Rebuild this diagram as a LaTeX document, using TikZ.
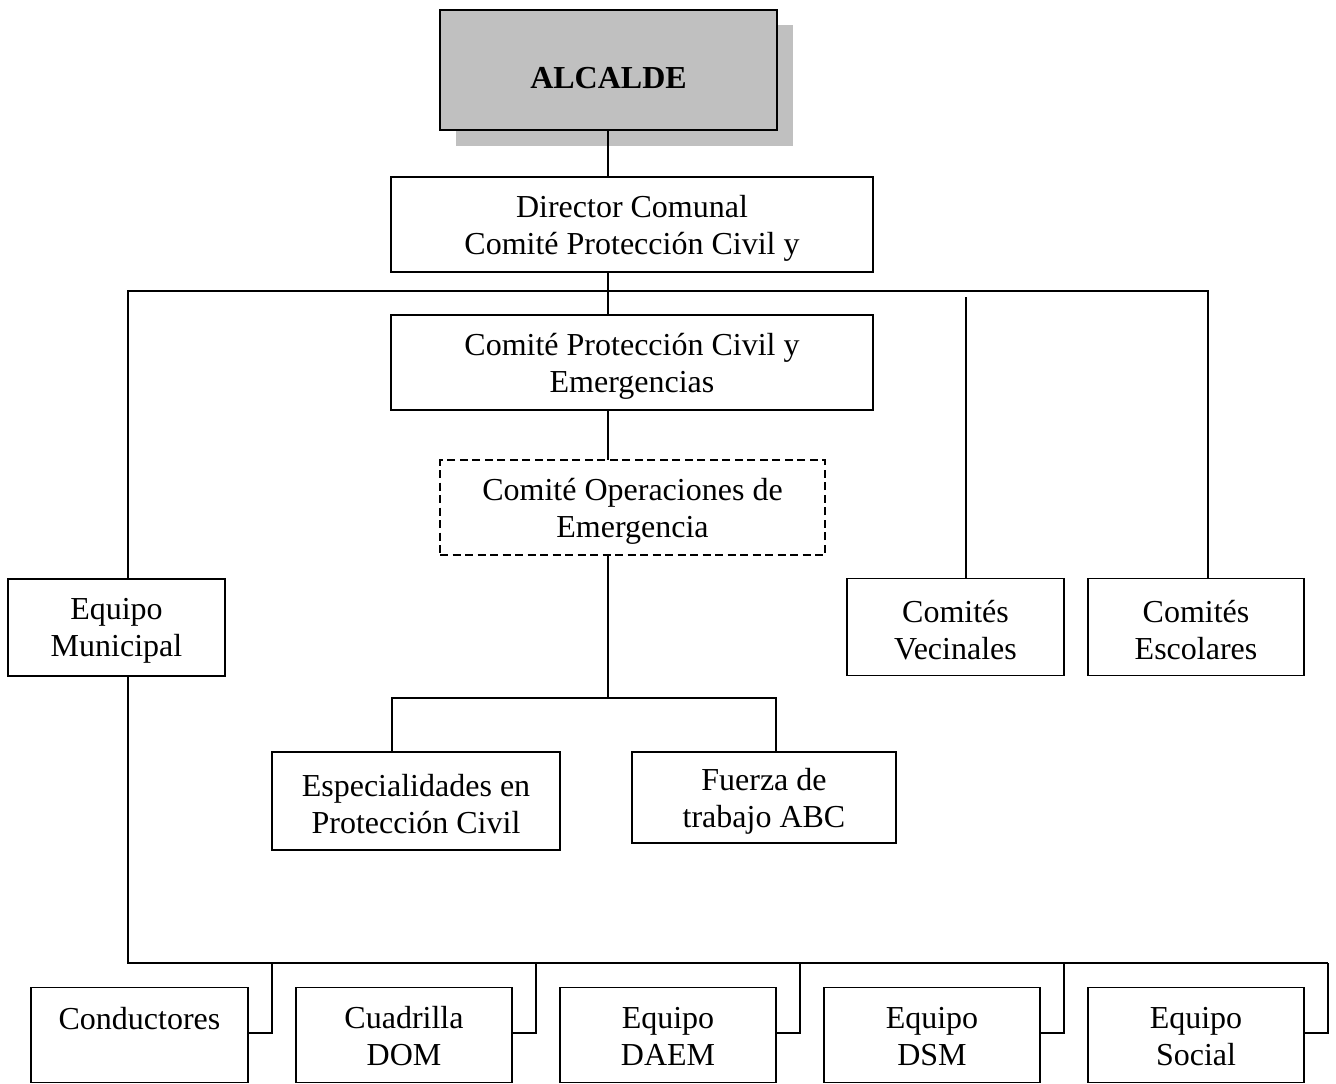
\documentclass[tikz,border=0pt]{standalone}
\usepackage{fontspec}
\setmainfont{Liberation Serif}
\usetikzlibrary{calc}
\definecolor{shgray}{HTML}{C0C0C0}
\begin{document}
\begin{tikzpicture}[x=1pt,y=-1pt,
  box/.style={draw=black,line width=1.6pt,fill=white,inner sep=0pt,outer sep=0pt},
  dbox/.style={box,dash pattern=on 8pt off 4.5pt},
  txt/.style={align=center,inner sep=0pt,yshift=-3.5pt,font=\fontsize{32}{37}\selectfont},
  conn/.style={draw=black,line width=1.6pt}]
\useasboundingbox (0,0) rectangle (1336,1084);
\fill[white] (0,0) rectangle (1336,1084);
% shadow
\fill[shgray] (456,25) rectangle (793,146);
\node[box,fill=shgray,minimum width=337,minimum height=120,
  label={[txt,yshift=-4.5pt,font=\fontsize{32}{37}\selectfont\bfseries]center:ALCALDE}] (alc) at (608.5,70) {};
\node[box,minimum width=482,minimum height=95,label={[txt]center:Director Comunal\\Comité Protección Civil y}] (dir) at (632,224.5) {};
\node[box,minimum width=482,minimum height=95,label={[txt]center:Comité Protección Civil y\\Emergencias}] (cpc) at (632,362.5) {};
\node[dbox,minimum width=385,minimum height=95,label={[txt]center:Comité Operaciones de\\Emergencia}] (coe) at (632.5,507.5) {};
\node[box,minimum width=217,minimum height=97,label={[txt]center:Equipo\\Municipal}] (eqm) at (116.5,627.5) {};
\node[box,minimum width=217,minimum height=97,label={[txt]center:Comités\\Vecinales}] (vec) at (955.5,627) {};
\node[box,minimum width=216,minimum height=97,label={[txt]center:Comités\\Escolares}] (esc) at (1196,627) {};
\node[box,minimum width=288,minimum height=98,label={[txt]center:Especialidades en\\Protección Civil}] (esp) at (416,801) {};
\node[box,minimum width=264,minimum height=91,label={[txt]center:Fuerza de\\trabajo ABC}] (fue) at (764,797.5) {};
\node[box,minimum width=217,minimum height=95,label={[txt,yshift=2pt]center:Conductores\\~}] (con) at (139.5,1035) {};
\node[box,minimum width=216,minimum height=95,label={[txt,yshift=2pt]center:Cuadrilla\\DOM}] (cua) at (404,1035) {};
\node[box,minimum width=216,minimum height=95,label={[txt,yshift=2pt]center:Equipo\\DAEM}] (dae) at (668,1035) {};
\node[box,minimum width=216,minimum height=95,label={[txt,yshift=2pt]center:Equipo\\DSM}] (dsm) at (932,1035) {};
\node[box,minimum width=216,minimum height=95,label={[txt,yshift=2pt]center:Equipo\\Social}] (soc) at (1196,1035) {};
% coordinates
\coordinate (cx) at (608,0);
\coordinate (bL) at (128,291);
\coordinate (bR) at (1208,291);
\coordinate (vT) at (966,297);
\coordinate (sC) at (608,698);
\coordinate (sL) at (392,698);
\coordinate (sR) at (776,698);
\coordinate (lL) at (128,963);
\coordinate (lR) at (1328,963);
\coordinate (st) at (0,1033);
% connectors
\draw[conn] (cx |- alc.south) -- (cx |- dir.north);
\draw[conn] (cx |- dir.south) -- (cx |- cpc.north);
\draw[conn] (bL |- eqm.north) -- (bL) -- (bR) -- (bR |- esc.north);
\draw[conn] (vT) -- (vT |- vec.north);
\draw[conn] (cx |- cpc.south) -- (cx |- coe.north);
\draw[conn] (cx |- coe.south) -- (sC);
\draw[conn] (sL |- esp.north) -- (sL) -- (sR) -- (sR |- fue.north);
\draw[conn] (bL |- eqm.south) -- (lL) -- (lR);
\foreach \n/\x in {con/272,cua/536,dae/800,dsm/1064,soc/1328}{
  \draw[conn] (\x,963) -- (\x,1033) -- (\n.east |- st);
}
\end{tikzpicture}
\end{document}
